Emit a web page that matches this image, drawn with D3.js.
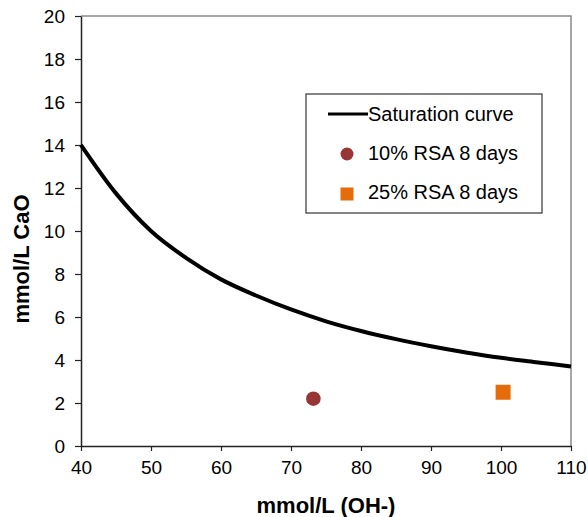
<!DOCTYPE html>
<html>
<head>
<meta charset="utf-8">
<script src="https://cdn.jsdelivr.net/npm/d3@7"></script>
<style>
  body { margin: 0; background: #fff; }
  text { font-family: "Liberation Sans", Arial, sans-serif; fill: #000; }
</style>
</head>
<body>
<div id="chart"></div>
<script>
// curve
const curveOH = [40, 45, 50, 55, 60, 65, 70, 75, 80, 85, 90, 95, 100, 105, 110];
const curveCaO = [14.0, 11.75, 10.0, 8.75, 7.75, 7.0, 6.35, 5.8, 5.35, 4.97, 4.64, 4.35, 4.1, 3.9, 3.7];

const sample10 = [{ oh: 73.2, cao: 2.2 }];
const sample25 = [{ oh: 100.3, cao: 2.5 }];

const xTicks = [40, 50, 60, 70, 80, 90, 100, 110];
const yTicks = [0, 2, 4, 6, 8, 10, 12, 14, 16, 18, 20];
const legendLabels = ["Saturation curve", "10% RSA 8 days", "25% RSA 8 days"];

const width = 588;
const height = 517;
const margin = { top: 16, right: 17, bottom: 71, left: 81 };

const svg = d3.select("#chart")
    .append("svg")
    .attr("width", width)
    .attr("height", height);

const x = d3.scaleLinear().domain([40, 110]).range([margin.left, width - margin.right]);
const y = d3.scaleLinear().domain([0, 20]).range([height - margin.bottom, margin.top]);

// grey frame top/right
svg.append("path")
    .attr("d", `M${x(40)},${y(20)}H${x(110)}V${y(0)}`)
    .attr("fill", "none")
    .attr("stroke", "#8a8a8a")
    .attr("stroke-width", 1.5);

// axes
const xAxis = svg.append("g")
    .attr("transform", `translate(0,${y(0)})`)
    .call(d3.axisBottom(x).tickValues(xTicks).tickSize(5).tickPadding(10).tickSizeOuter(0));
const yAxis = svg.append("g")
    .attr("transform", `translate(${x(40)},0)`)
    .call(d3.axisLeft(y).tickValues(yTicks).tickSize(6).tickPadding(10).tickSizeOuter(0));

[xAxis, yAxis].forEach(g => {
    g.select(".domain").attr("stroke", "#222").attr("stroke-width", 1.5);
    g.selectAll(".tick line").attr("stroke", "#222").attr("stroke-width", 1.2);
    g.selectAll(".tick text")
        .attr("font-family", "Liberation Sans, Arial, sans-serif")
        .attr("font-size", 19)
        .attr("fill", "#000");
});

// saturation curve
const line = d3.line()
    .x(d => x(d[0]))
    .y(d => y(d[1]))
    .curve(d3.curveMonotoneX);

svg.append("path")
    .datum(d3.zip(curveOH, curveCaO))
    .attr("d", line)
    .attr("fill", "none")
    .attr("stroke", "#000")
    .attr("stroke-width", 4);

// samples
svg.selectAll(".s10")
    .data(sample10)
    .enter().append("circle")
    .attr("cx", d => x(d.oh))
    .attr("cy", d => y(d.cao))
    .attr("r", 7.3)
    .attr("fill", "#983535");

svg.selectAll(".s25")
    .data(sample25)
    .enter().append("rect")
    .attr("x", d => x(d.oh) - 7.5)
    .attr("y", d => y(d.cao) - 7.5)
    .attr("width", 15)
    .attr("height", 15)
    .attr("fill", "#e46c0a");

// legend
const legend = svg.append("g").attr("transform", "translate(306,94)");
legend.append("rect")
    .attr("width", 236)
    .attr("height", 119)
    .attr("fill", "#fff")
    .attr("stroke", "#333")
    .attr("stroke-width", 1.2);

legend.append("line")
    .attr("x1", 22).attr("x2", 62)
    .attr("y1", 20).attr("y2", 20)
    .attr("stroke", "#000")
    .attr("stroke-width", 3);
legend.append("circle")
    .attr("cx", 41).attr("cy", 60).attr("r", 6.5)
    .attr("fill", "#983535");
legend.append("rect")
    .attr("x", 34.5).attr("y", 93.5).attr("width", 13).attr("height", 13)
    .attr("fill", "#e46c0a");

legend.selectAll(".lab")
    .data(legendLabels)
    .enter().append("text")
    .attr("x", 62)
    .attr("y", (d, i) => 27 + i * 39)
    .attr("font-size", 20)
    .text(d => d);

// axis titles
svg.append("text")
    .attr("x", (x(40) + x(110)) / 2)
    .attr("y", 513)
    .attr("text-anchor", "middle")
    .attr("font-size", 22)
    .attr("font-weight", "bold")
    .text("mmol/L (OH-)");

svg.append("text")
    .attr("transform", "translate(29,259) rotate(-90)")
    .attr("text-anchor", "middle")
    .attr("font-size", 22)
    .attr("font-weight", "bold")
    .text("mmol/L CaO");
</script>
</body>
</html>
